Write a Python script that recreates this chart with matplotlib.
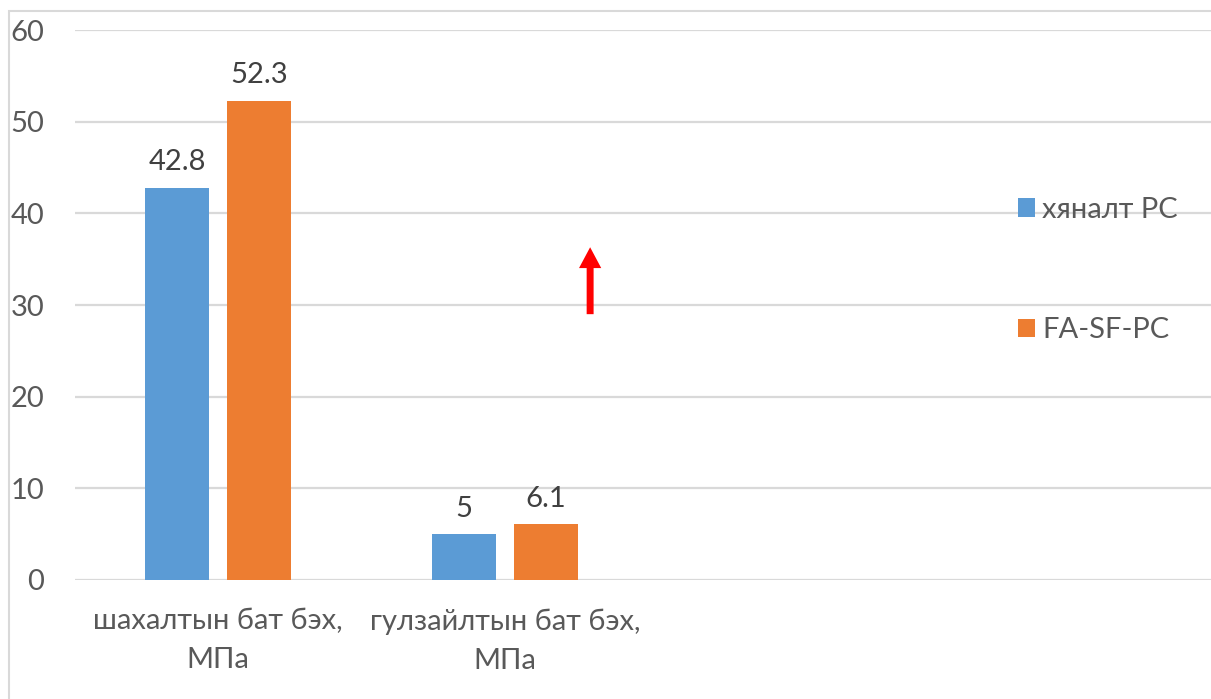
import matplotlib
matplotlib.use("Agg")
import matplotlib.pyplot as plt
import matplotlib.patches as mpatches
import numpy as np

# chart data
categories = ["шахалтын бат бэх,\nМПа", "гулзайлтын бат бэх,\nМПа"]
series_names = ["хяналт PC", "FA-SF-PC"]
control_pc = [42.8, 5]
fa_sf_pc = [52.3, 6.1]
y_ticks = [0, 10, 20, 30, 40, 50, 60]

blue = "#5B9BD5"
orange = "#ED7D31"
text_col = "#595959"
grid_col = "#D9D9D9"

plt.rcParams["font.family"] = ["Lato", "DejaVu Sans"]

fig = plt.figure(figsize=(12.11, 6.99), dpi=100)
# plot area spans 4 category slots, the right one runs off the picture
ax = fig.add_axes([75 / 1211, 119 / 699, 1146 / 1211, 550 / 699])

x = np.arange(len(categories))
width = 0.223
offset = 0.143
b1 = ax.bar(x - offset, control_pc, width, color=blue, label=series_names[0], zorder=3)
b2 = ax.bar(x + offset, fa_sf_pc, width, color=orange, label=series_names[1], zorder=3)

ax.bar_label(b1, labels=[f"{v:g}" for v in control_pc], padding=9, fontsize=21, color="#404040")
ax.bar_label(b2, labels=[f"{v:g}" for v in fa_sf_pc], padding=9, fontsize=21, color="#404040")

ax.set_xlim(-0.5, 3.5)
ax.set_ylim(0, 60)
ax.set_yticks(y_ticks)
ax.set_xticks(x)
ax.set_xticklabels(categories, linespacing=1.62)
ax.tick_params(axis="y", length=0, pad=22, labelsize=21, labelcolor=text_col)
ax.tick_params(axis="x", length=0, pad=20.5, labelsize=21, labelcolor=text_col)
ax.grid(axis="y", color=grid_col, linewidth=1.6, zorder=0)
for s in ax.spines.values():
    s.set_visible(False)

# red arrow pointing up
ax.annotate("", xy=(1.298, 36.3), xytext=(1.298, 29.0),
            arrowprops=dict(arrowstyle="simple,head_length=1.5,head_width=1.6,tail_width=0.5",
                            mutation_scale=10, color="red", lw=0, shrinkA=0, shrinkB=0),
            zorder=4)

leg = fig.legend(handles=[b1, b2], loc="upper left", bbox_to_anchor=(1003 / 1211, 1 - 182 / 699),
                 frameon=False, fontsize=21, labelcolor=text_col, handlelength=0.6,
                 handleheight=0.6, handletextpad=0.25, labelspacing=3.25, borderpad=0)

# thin chart frame
fig.add_artist(mpatches.Rectangle((9 / 1211, -0.1), 1.2, 1.1 - 11 / 699,
                                  transform=fig.transFigure, fill=False,
                                  edgecolor=grid_col, linewidth=1.5))

fig.savefig("out.png", dpi=100)
